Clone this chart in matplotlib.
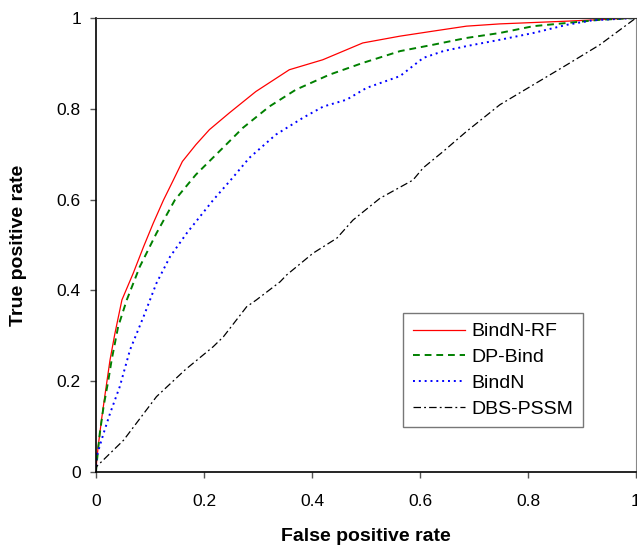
import matplotlib
matplotlib.use("Agg")
import matplotlib.pyplot as plt

plt.rcParams['font.family'] = ['Liberation Sans', 'DejaVu Sans']

# ROC curves (false positive rate, true positive rate)
rf_fpr = [0, 0.001, 0.004, 0.011, 0.017, 0.026, 0.035, 0.048, 0.069, 0.088, 0.106, 0.125,
          0.142, 0.160, 0.185, 0.210, 0.247, 0.296, 0.358, 0.420, 0.494, 0.563, 0.624,
          0.686, 0.748, 0.872, 1.0]
rf_tpr = [0, 0.02, 0.056, 0.122, 0.173, 0.247, 0.305, 0.379, 0.438, 0.496, 0.548, 0.599,
          0.640, 0.684, 0.721, 0.754, 0.791, 0.838, 0.886, 0.908, 0.945, 0.960, 0.971,
          0.982, 0.987, 0.993, 1.0]

dp_fpr = [0, 0.001, 0.007, 0.014, 0.023, 0.029, 0.041, 0.057, 0.081, 0.112, 0.146, 0.185,
          0.235, 0.272, 0.321, 0.370, 0.432, 0.494, 0.563, 0.624, 0.686, 0.748, 0.810,
          0.872, 0.933, 1.0]
dp_tpr = [0, 0.016, 0.085, 0.144, 0.203, 0.247, 0.320, 0.379, 0.452, 0.526, 0.599, 0.655,
          0.714, 0.758, 0.805, 0.842, 0.875, 0.901, 0.927, 0.941, 0.956, 0.967, 0.982,
          0.989, 0.996, 1.0]

bn_fpr = [0, 0.001, 0.014, 0.026, 0.044, 0.063, 0.088, 0.112, 0.137, 0.168, 0.217, 0.253,
          0.284, 0.333, 0.383, 0.421, 0.464, 0.501, 0.563, 0.606, 0.643, 0.686, 0.748,
          0.810, 0.872, 0.920, 1.0]
bn_tpr = [0, 0.034, 0.085, 0.129, 0.188, 0.269, 0.342, 0.416, 0.474, 0.526, 0.599, 0.648,
          0.692, 0.743, 0.780, 0.805, 0.820, 0.846, 0.872, 0.912, 0.927, 0.938, 0.952,
          0.967, 0.985, 0.995, 1.0]

dbs_fpr = [0, 0.001, 0.051, 0.112, 0.165, 0.217, 0.236, 0.279, 0.297, 0.341, 0.353, 0.402,
           0.446, 0.476, 0.526, 0.587, 0.606, 0.643, 0.686, 0.748, 0.810, 0.872, 0.933, 1.0]
dbs_tpr = [0, 0.012, 0.070, 0.166, 0.225, 0.276, 0.298, 0.364, 0.379, 0.419, 0.434, 0.482,
           0.515, 0.555, 0.603, 0.643, 0.670, 0.706, 0.750, 0.809, 0.853, 0.897, 0.941, 1.0]

ticks = [0, 0.2, 0.4, 0.6, 0.8, 1]
tick_labels = ['0', '0.2', '0.4', '0.6', '0.8', '1']

fig = plt.figure(figsize=(6.37, 5.45), dpi=100)
ax = fig.add_axes([0.1507, 0.1339, 0.8477, 0.8331])

ax.plot(rf_fpr, rf_tpr, color='#ff0000', lw=0.9, label='BindN-RF')
ax.plot(dp_fpr, dp_tpr, color='#008000', lw=1.4, ls=(0, (3.5, 2.5)), label='DP-Bind')
ax.plot(bn_fpr, bn_tpr, color='#0000ff', lw=1.4, ls=(0, (1, 2)), label='BindN')
ax.plot(dbs_fpr, dbs_tpr, color='black', lw=0.9, ls=(0, (6, 2.5, 1.5, 2.5)), label='DBS-PSSM')

ax.set_xlim(0, 1)
ax.set_ylim(0, 1)
ax.set_xticks(ticks)
ax.set_xticklabels(tick_labels)
ax.set_yticks(ticks)
ax.set_yticklabels(tick_labels)
ax.tick_params(direction='out', length=4.5, width=1, labelsize=12.5, color='#555555')
ax.tick_params(axis='x', pad=11)
ax.tick_params(axis='y', pad=6.3)

ax.spines['right'].set_color('#888888')
ax.spines['top'].set_color('#333333')
for s in ['left', 'bottom']:
    ax.spines[s].set_linewidth(1.2)

ax.set_xlabel('False positive rate', fontsize=14, fontweight='bold')
ax.set_ylabel('True positive rate', fontsize=14, fontweight='bold')
ax.xaxis.set_label_coords(0.5, -0.143)
ax.xaxis.label.set_va('center')
ax.yaxis.set_label_coords(-0.1444, 0.5)
ax.yaxis.label.set_va('center')

leg = ax.legend(loc='upper left', bbox_to_anchor=(0.5685, 0.350), fontsize=14,
                frameon=True, fancybox=False, edgecolor='#555555', handlelength=2.7,
                handletextpad=0.3, borderpad=0.5, labelspacing=0.42, borderaxespad=0)
leg.get_frame().set_linewidth(1.0)

fig.savefig('out.png', dpi=100)
